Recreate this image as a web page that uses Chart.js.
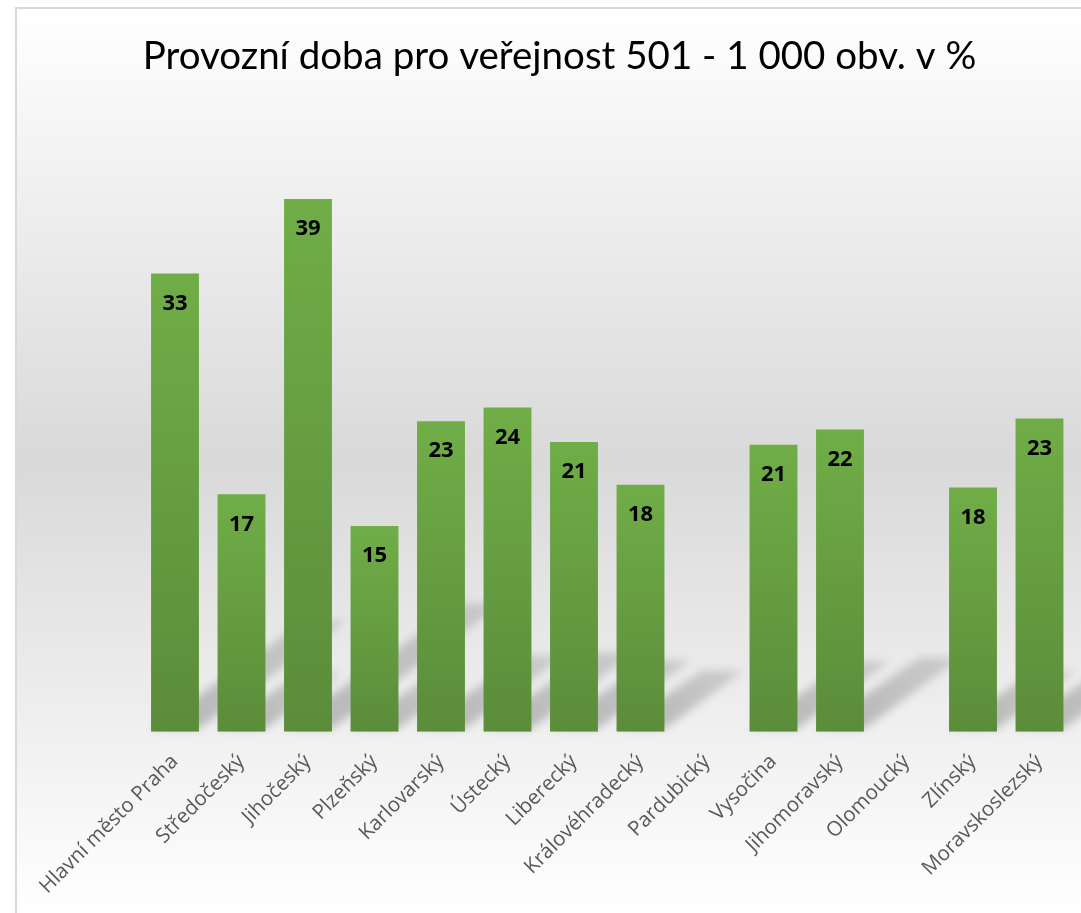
<!DOCTYPE html>
<html><head><meta charset="utf-8">
<script src="https://cdn.jsdelivr.net/npm/chart.js@4"></script>
<style>
html,body{margin:0;padding:0;background:#fff;overflow:hidden;width:1081px;height:913px;}
#frame{position:absolute;left:15px;top:7px;border-left:2px solid #d9d9d9;border-top:2px solid #d9d9d9;width:1085px;height:904px;}
canvas{display:block;}
</style></head><body>
<div id="frame"><canvas id="c" width="1085" height="904"></canvas></div>
<script>
const categories = ['Hlavní město Praha','Středočeský','Jihočeský','Plzeňský','Karlovarský','Ústecký','Liberecký','Královéhradecký','Pardubický','Vysočina','Jihomoravský','Olomoucký','Zlínský','Moravskoslezský'];
const values = [33.2, 17.2, 38.6, 14.9, 22.5, 23.5, 21.0, 17.9, null, 20.8, 21.9, null, 17.7, 22.7];
const titleText = 'Provozní doba pro veřejnost 501 - 1 000 obv. v %';
const yMin = 0, yMax = 45;

const bgPlugin = {
  id: 'bg',
  beforeDraw(chart) {
    const c = chart.ctx, w = chart.width, h = chart.height;
    const g = c.createLinearGradient(0, 0, 0, h);
    g.addColorStop(0, '#ffffff');
    g.addColorStop(0.5, '#d9d9d9');
    g.addColorStop(1, '#ffffff');
    c.save(); c.fillStyle = g; c.fillRect(0, 0, w, h); c.restore();
  }
};

const shadowPlugin = {
  id: 'shadow',
  beforeDatasetsDraw(chart) {
    const c = chart.ctx;
    const meta = chart.getDatasetMeta(0);
    c.save();
    c.filter = 'blur(4px)';
    meta.data.forEach((el, i) => {
      if (values[i] == null) return;
      const p = el.getProps(['x', 'y', 'base', 'width'], true);
      const h = p.base - p.y;
      const x0 = p.x - p.width / 2, x1 = p.x + p.width / 2;
      const B = p.base - 3;
      const dx = 0.32 * h, dy = 0.235 * h;
      const g = c.createLinearGradient(x1, B, x1 + dx, B - dy);
      g.addColorStop(0, 'rgba(0,0,0,0.22)');
      g.addColorStop(1, 'rgba(0,0,0,0.12)');
      c.fillStyle = g;
      c.beginPath();
      c.moveTo(x0, B);
      c.lineTo(x1, B);
      c.lineTo(x1 + dx, B - dy);
      c.lineTo(x0 + dx + p.width * 0.15, B - dy);
      c.closePath();
      c.fill();
    });
    c.restore();
  }
};

const labelPlugin = {
  id: 'vlabels',
  afterDatasetsDraw(chart) {
    const c = chart.ctx;
    const meta = chart.getDatasetMeta(0);
    c.save();
    c.font = 'bold 22px "Open Sans"';
    c.fillStyle = '#000';
    c.textAlign = 'center';
    c.textBaseline = 'middle';
    meta.data.forEach((el, i) => {
      if (values[i] == null) return;
      c.fillText(String(Math.round(values[i])), el.x, el.y + 30);
    });
    c.restore();
  }
};

new Chart(document.getElementById('c'), {
  type: 'bar',
  data: {
    labels: categories,
    datasets: [{
      data: values,
      backgroundColor: (ctx) => {
        const chart = ctx.chart;
        if (!chart.chartArea || ctx.raw == null) return '#70ad47';
        const ys = chart.scales.y;
        const top = ys.getPixelForValue(ctx.raw), base = ys.getPixelForValue(0);
        const g = chart.ctx.createLinearGradient(0, top, 0, base);
        g.addColorStop(0, '#70ad47');
        g.addColorStop(1, '#5b8c3a');
        return g;
      },
      borderWidth: 0,
      barPercentage: 0.8,
      categoryPercentage: 0.9
    }]
  },
  options: {
    responsive: false,
    devicePixelRatio: 1,
    animation: false,
    layout: { padding: { left: 29.25, right: 29.25, top: 0, bottom: 0 } },
    plugins: {
      legend: { display: false },
      tooltip: { enabled: false },
      title: {
        display: true,
        text: titleText,
        color: '#000',
        font: { family: 'Lato', size: 38.5, weight: 'normal', lineHeight: 1.2 },
        padding: { top: 24.9, bottom: 30.6 }
      }
    },
    scales: {
      x: {
        grid: { display: false },
        border: { display: false },
        ticks: {
          autoSkip: false, maxRotation: 45, minRotation: 45,
          color: '#595959', font: { family: 'Open Sans', size: 20.5 }, padding: 10
        },
        afterFit(s) { s.height = 181.3; }
      },
      y: {
        min: yMin, max: yMax,
        grid: { display: false },
        border: { display: false },
        ticks: { display: false },
        afterFit(s) { s.width = 95.5; }
      }
    }
  },
  plugins: [bgPlugin, shadowPlugin, labelPlugin]
});
</script>
</body></html>
